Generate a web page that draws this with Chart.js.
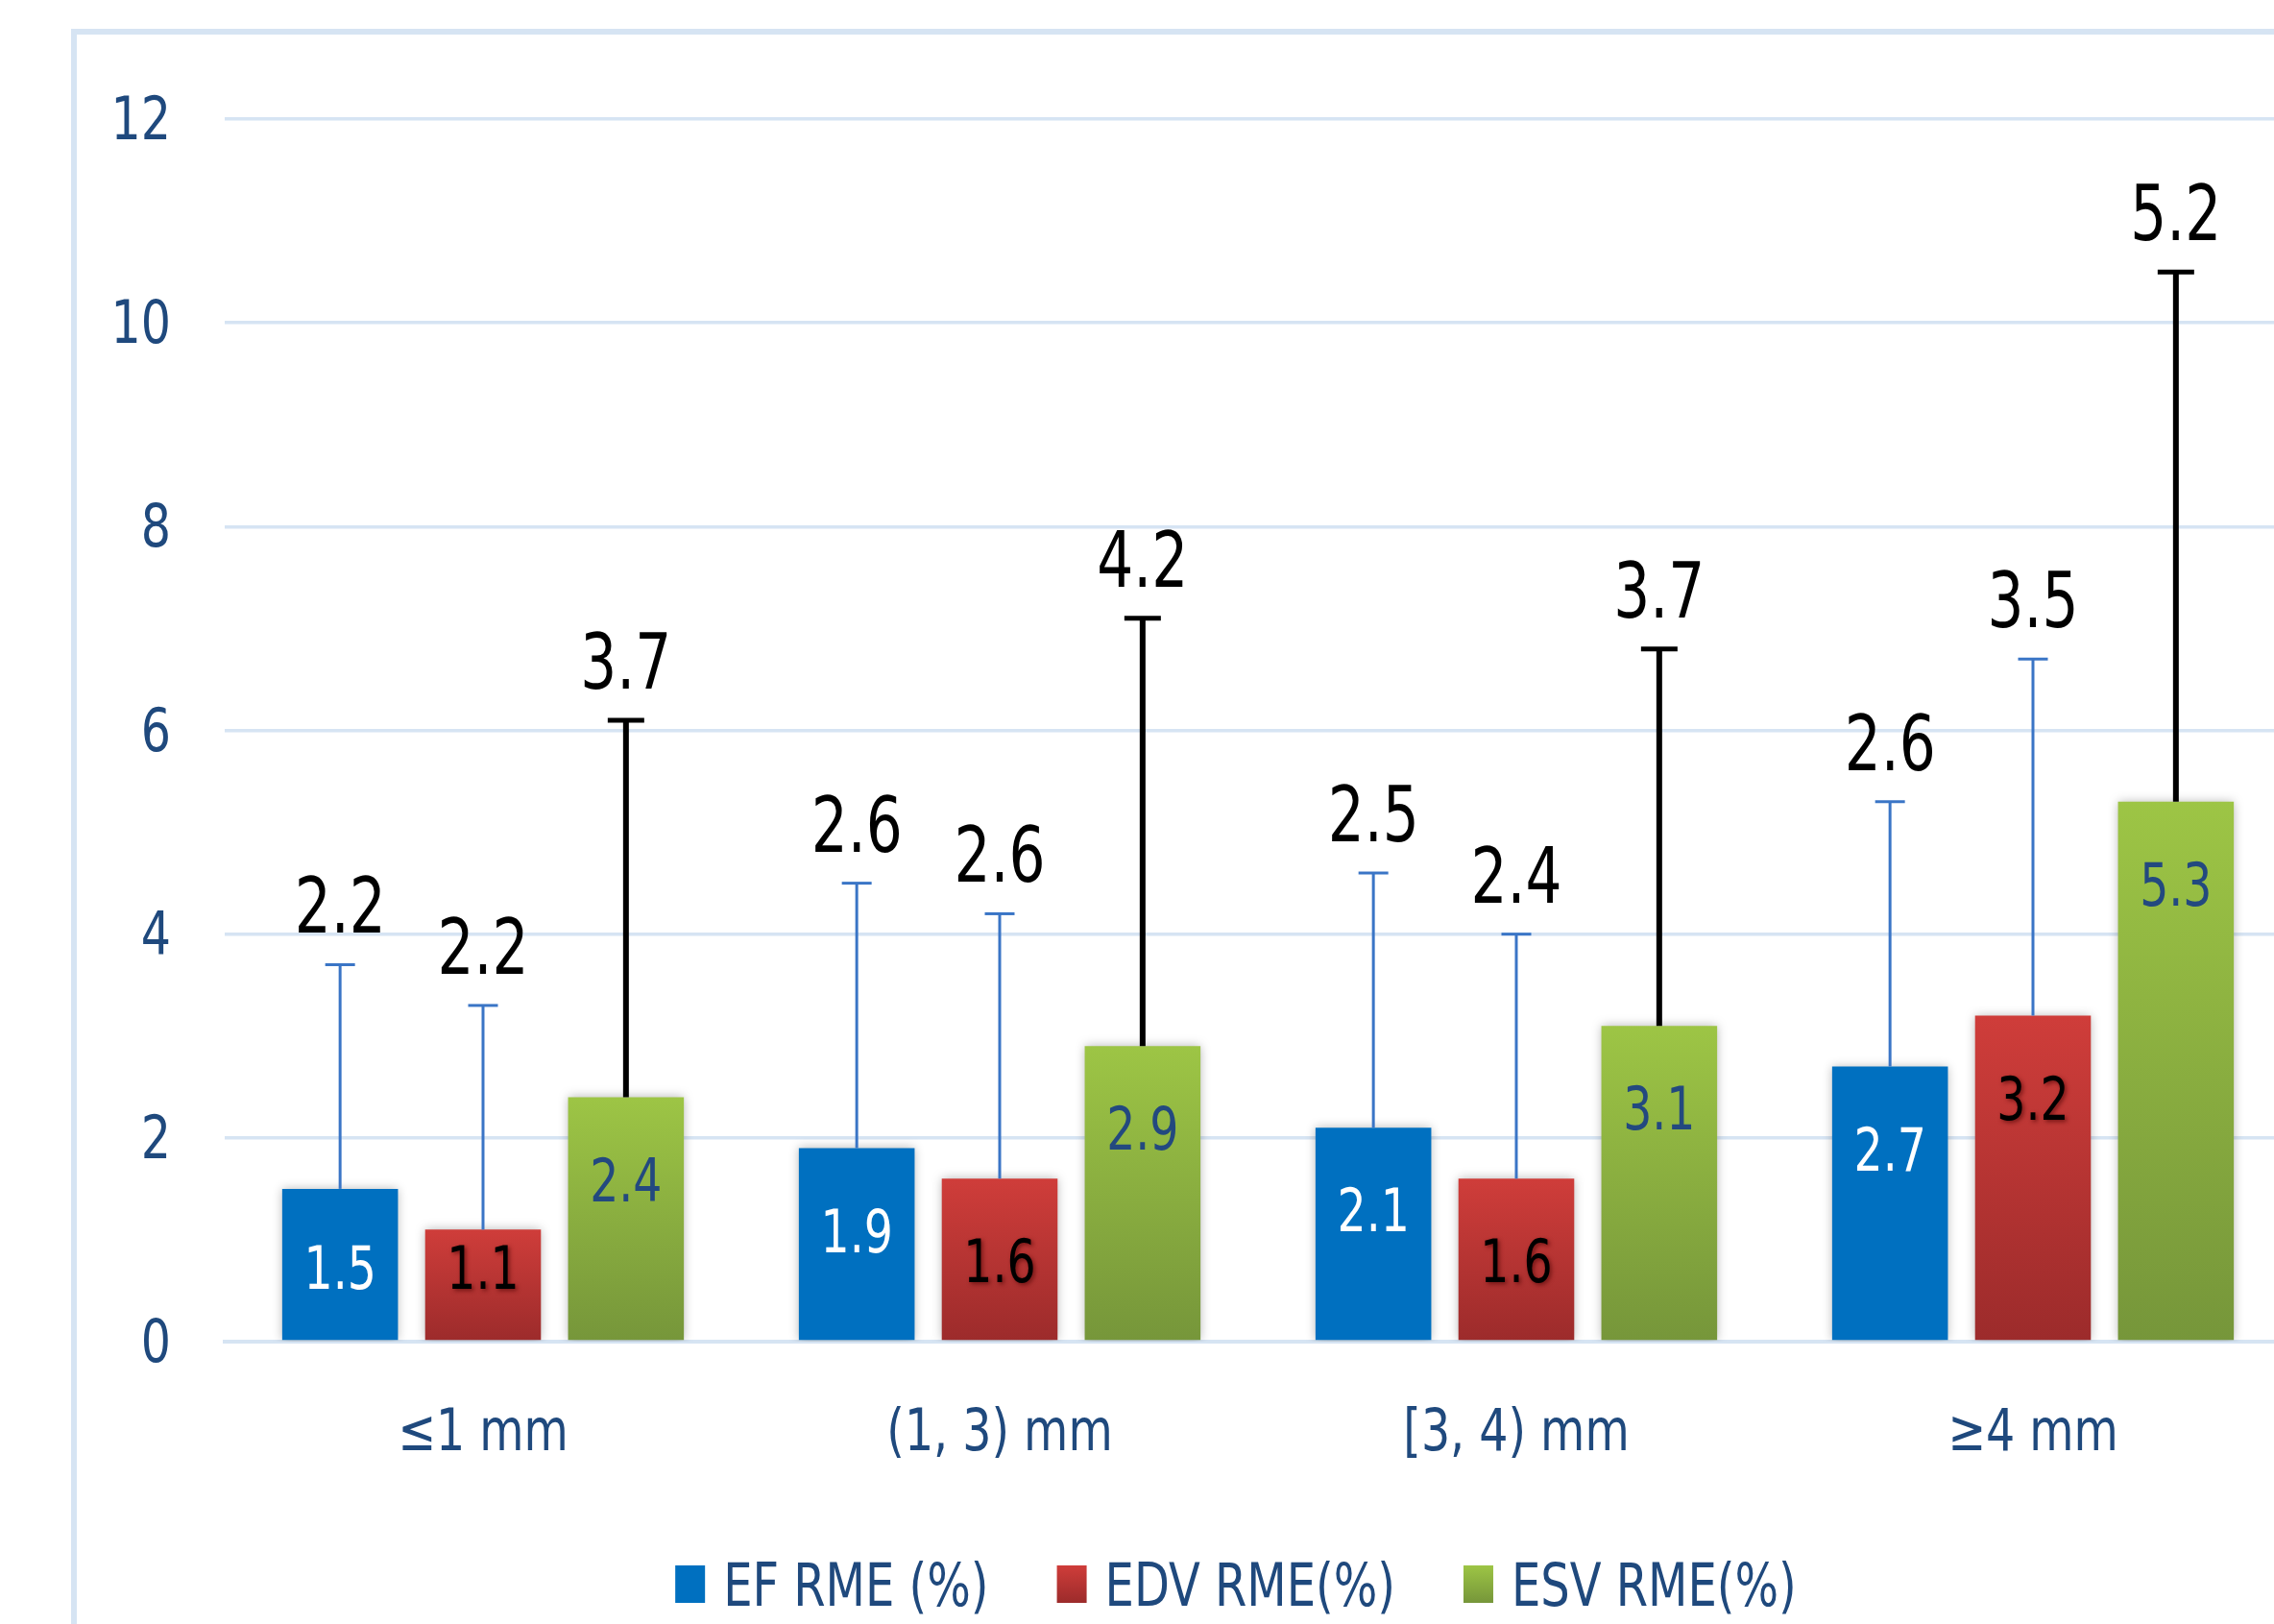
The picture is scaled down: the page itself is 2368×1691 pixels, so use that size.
<!DOCTYPE html>
<html>
<head>
<meta charset="utf-8">
<script src="https://cdn.jsdelivr.net/npm/chart.js@4/dist/chart.umd.min.js"></script>
<style>
  html, body { margin: 0; padding: 0; background: #fff; overflow: hidden; width: 2368px; height: 1691px; }
  #frame { position: absolute; left: 74px; top: 30px; width: 2420px; height: 1700px; border: 6px solid #d6e4f3; background: #fff; }
  #chart { position: absolute; left: 0; top: 0; }
</style>
</head>
<body>
<div id="frame"><canvas id="chart" width="2414" height="1680"></canvas></div>
<script>
const categories = ['≤1 mm', '(1, 3) mm', '[3, 4) mm', '≥4 mm'];
const seriesNames = ['EF RME (%)', 'EDV RME(%)', 'ESV RME(%)'];
const efValues = [1.5, 1.9, 2.1, 2.7];
const edvValues = [1.1, 1.6, 1.6, 3.2];
const esvValues = [2.4, 2.9, 3.1, 5.3];
// standard deviations shown above the error bars
const efErrors = [2.2, 2.6, 2.5, 2.6];
const edvErrors = [2.2, 2.6, 2.4, 3.5];
const esvErrors = [3.7, 4.2, 3.7, 5.2];
const yTicks = [0, 2, 4, 6, 8, 10, 12];

const FONT = "'DejaVu Sans Condensed', 'DejaVu Sans', sans-serif";
const navy = '#1f497d';

function barGradient(top, bottom) {
    return function (c) {
        const chart = c.chart;
        if (!chart.chartArea || c.raw === undefined) return bottom;
        const y = chart.scales.y;
        const g = chart.ctx.createLinearGradient(0, y.getPixelForValue(c.raw), 0, y.getPixelForValue(0));
        g.addColorStop(0, top);
        g.addColorStop(1, bottom);
        return g;
    };
}

// narrow text: the original uses a condensed face, so squeeze horizontally
function drawText(ctx, txt, x, y, size, color, align, sx, baseline, shadow) {
    ctx.save();
    ctx.font = size + 'px ' + FONT;
    ctx.fillStyle = color;
    ctx.textBaseline = baseline || 'middle';
    ctx.textAlign = 'left';
    const w = ctx.measureText(txt).width * sx;
    const x0 = align === 'center' ? x - w / 2 : (align === 'right' ? x - w : x);
    if (shadow) {
        ctx.shadowColor = shadow;
        ctx.shadowBlur = 4;
        ctx.shadowOffsetX = 2;
        ctx.shadowOffsetY = 2;
    }
    ctx.translate(x0, y);
    ctx.scale(sx, 1);
    ctx.fillText(txt, 0, 0);
    ctx.restore();
    return w;
}

const errors = [efErrors, edvErrors, esvErrors];
const errStyle = [
    { color: '#3a75c6', width: 3, cap: 31, capWidth: 3 },
    { color: '#3a75c6', width: 3, cap: 31, capWidth: 3 },
    { color: '#000000', width: 6, cap: 38, capWidth: 5 }
];
const innerLabelStyle = [
    { color: '#ffffff', shadow: null },
    { color: '#000000', shadow: 'rgba(90,10,10,0.7)' },
    { color: '#23497f', shadow: null }
];
const legendColors = [['#0070c0', '#0070c0'], ['#cf3d3a', '#9c2b2b'], ['#9dc545', '#76963a']];

const decorations = {
    id: 'decorations',
    beforeDatasetsDraw(chart) {
        const ctx = chart.ctx;
        ctx.save();
        ctx.shadowColor = 'rgba(0,0,0,0.28)';
        ctx.shadowBlur = 10;
    },
    afterDatasetsDraw(chart) {
        const ctx = chart.ctx;
        ctx.restore();
        const yScale = chart.scales.y;
        const xScale = chart.scales.x;

        // axis labels
        yTicks.forEach(v => {
            drawText(ctx, String(v), 98, yScale.getPixelForValue(v) + 5, 62, navy, 'right', 0.88);
        });
        categories.forEach((c, i) => {
            drawText(ctx, c, xScale.getPixelForValue(i), 1474, 60, navy, 'center', 0.88, 'alphabetic');
        });

        chart.data.datasets.forEach((ds, i) => {
            const meta = chart.getDatasetMeta(i);
            const st = errStyle[i];
            meta.data.forEach((bar, j) => {
                const value = ds.data[j];
                const err = errors[i][j];
                const yTop = yScale.getPixelForValue(value + err);
                // error bar
                ctx.save();
                ctx.strokeStyle = st.color;
                ctx.lineWidth = st.width;
                ctx.beginPath();
                ctx.moveTo(bar.x, bar.y);
                ctx.lineTo(bar.x, yTop);
                ctx.stroke();
                ctx.lineWidth = st.capWidth;
                ctx.beginPath();
                ctx.moveTo(bar.x - st.cap / 2, yTop);
                ctx.lineTo(bar.x + st.cap / 2, yTop);
                ctx.stroke();
                ctx.restore();

                // sd label above error bar
                drawText(ctx, err.toFixed(1), bar.x, yTop - 33, 80, '#000', 'center', 0.83, 'alphabetic');

                // value label inside bar
                const ls = innerLabelStyle[i];
                const cy = Math.min(bar.y + 92, bar.base - 69);
                drawText(ctx, value.toFixed(1), bar.x, cy, 62, ls.color, 'center', 0.85, 'middle', ls.shadow);
            });
        });

        // legend
        ctx.save();
        ctx.font = '62px ' + FONT;
        const sx = 0.86;
        const boxW = 31, boxH = 39, gapText = 19, gapItem = 71;
        const widths = seriesNames.map(n => boxW + gapText + ctx.measureText(n).width * sx);
        ctx.restore();
        const total = widths.reduce((a, b) => a + b, 0) + gapItem * (widths.length - 1);
        let x = chart.width / 2 - total / 2;
        const boxTop = 1594;
        seriesNames.forEach((name, i) => {
            const g = ctx.createLinearGradient(0, boxTop, 0, boxTop + boxH);
            g.addColorStop(0, legendColors[i][0]);
            g.addColorStop(1, legendColors[i][1]);
            ctx.fillStyle = g;
            ctx.fillRect(x, boxTop, boxW, boxH);
            drawText(ctx, name, x + boxW + gapText, 1636, 62, navy, 'left', sx, 'alphabetic');
            x += widths[i] + gapItem;
        });
    }
};

const ctx = document.getElementById('chart').getContext('2d');
const chart = new Chart(ctx, {
    type: 'bar',
    data: {
        labels: categories,
        datasets: [
            { label: seriesNames[0], data: efValues, backgroundColor: '#0070c0' },
            { label: seriesNames[1], data: edvValues, backgroundColor: barGradient('#cf3d3a', '#9c2b2b') },
            { label: seriesNames[2], data: esvValues, backgroundColor: barGradient('#9dc545', '#76963a') }
        ]
    },
    options: {
        responsive: false,
        animation: false,
        devicePixelRatio: 1,
        categoryPercentage: 0.83,
        barPercentage: 0.81,
        layout: { padding: { left: 0, right: 108, top: 88, bottom: 0 } },
        plugins: {
            legend: { display: false },
            tooltip: { enabled: false }
        },
        scales: {
            x: {
                grid: { display: false, drawTicks: false },
                border: { display: true, color: '#d6e4f3', width: 4 },
                ticks: { display: false },
                afterFit(scale) { scale.height = 319; }
            },
            y: {
                min: 0,
                max: 12,
                afterBuildTicks(scale) {
                    scale.ticks = yTicks.map(v => ({ value: v }));
                },
                grid: { color: '#d6e4f3', lineWidth: 3.5, drawTicks: false },
                border: { display: false },
                ticks: { display: false },
                afterFit(scale) { scale.width = 154; }
            }
        }
    },
    plugins: [decorations]
});
</script>
</body>
</html>
